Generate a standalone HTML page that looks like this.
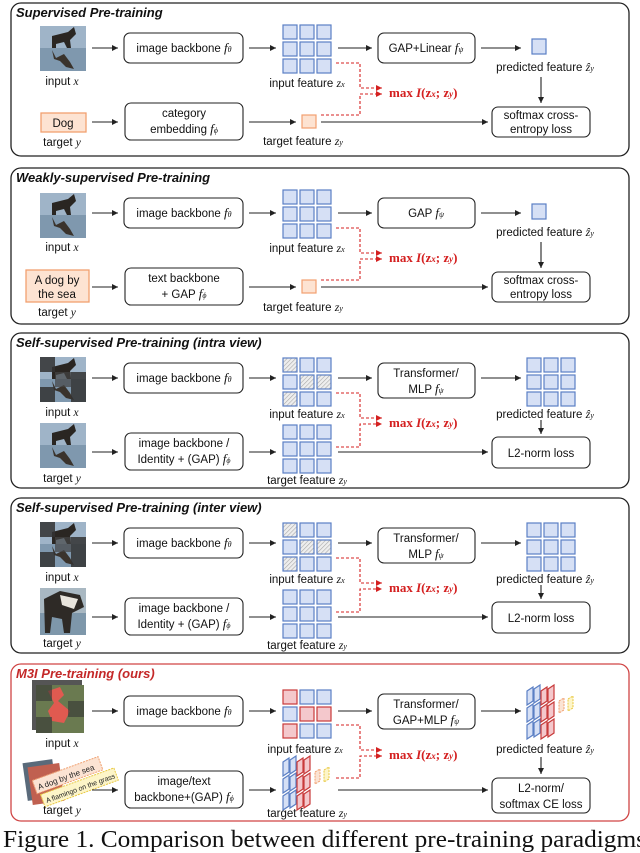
<!DOCTYPE html>
<html><head><meta charset="utf-8"><style>
html,body{margin:0;padding:0;background:#fff;overflow:hidden}
svg{display:block}
.t{font-family:"Liberation Sans",sans-serif;font-size:11.5px;fill:#111}
.c{text-anchor:middle}
.h{font-family:"Liberation Sans",sans-serif;font-size:13px;font-weight:bold;font-style:italic;fill:#111}
.m{font-family:"Liberation Serif",serif;font-style:italic}
.r{font-family:"Liberation Serif",serif;font-size:13px;font-weight:bold;fill:#d42020}
.box{fill:#fff;stroke:#222;stroke-width:1.1}
.fr{fill:none;stroke:#222;stroke-width:1.3}
.ar{stroke:#222;stroke-width:1.1;fill:none;marker-end:url(#ah)}
.rd{stroke:#d42020;stroke-width:1.1;fill:none;stroke-dasharray:3,2;marker-end:url(#rh)}
.bc{fill:#d6e0f5;stroke:#5b7fc4;stroke-width:1.2}
.hc{fill:url(#hat);stroke:#5b7fc4;stroke-width:1.2}
.rc{fill:#f4c8cc;stroke:#c83a3a;stroke-width:1.2}
</style></head><body>
<svg width="640" height="853" viewBox="0 0 640 853" xmlns="http://www.w3.org/2000/svg">
<defs>
<marker id="ah" markerWidth="8" markerHeight="8" refX="6" refY="3" orient="auto" markerUnits="userSpaceOnUse"><path d="M0,0 L6,3 L0,6 z" fill="#222"/></marker>
<marker id="rh" markerWidth="8" markerHeight="8" refX="6" refY="3" orient="auto" markerUnits="userSpaceOnUse"><path d="M0,0 L6,3 L0,6 z" fill="#d42020"/></marker>
<pattern id="hat" width="3" height="3" patternUnits="userSpaceOnUse" patternTransform="rotate(45)"><rect width="3" height="3" fill="#eee"/><line x1="0" y1="0" x2="0" y2="3" stroke="#aaa" stroke-width="1.2"/></pattern>
<g id="grid">
<rect class="bc" x="0" y="0" width="14" height="14"/><rect class="bc" x="17" y="0" width="14" height="14"/><rect class="bc" x="34" y="0" width="14" height="14"/>
<rect class="bc" x="0" y="17" width="14" height="14"/><rect class="bc" x="17" y="17" width="14" height="14"/><rect class="bc" x="34" y="17" width="14" height="14"/>
<rect class="bc" x="0" y="34" width="14" height="14"/><rect class="bc" x="17" y="34" width="14" height="14"/><rect class="bc" x="34" y="34" width="14" height="14"/>
</g>
<g id="hgrid">
<rect class="hc" x="0" y="0" width="14" height="14"/><rect class="bc" x="17" y="0" width="14" height="14"/><rect class="bc" x="34" y="0" width="14" height="14"/>
<rect class="bc" x="0" y="17" width="14" height="14"/><rect class="hc" x="17" y="17" width="14" height="14"/><rect class="hc" x="34" y="17" width="14" height="14"/>
<rect class="hc" x="0" y="34" width="14" height="14"/><rect class="bc" x="17" y="34" width="14" height="14"/><rect class="bc" x="34" y="34" width="14" height="14"/>
</g>
<g id="dog">
<rect x="0" y="0" width="46" height="45" fill="#9fb4c8"/>
<rect x="0" y="22" width="46" height="23" fill="#7f98ae"/>
<path d="M12,10 L28,6 L34,1 L36,8 L30,14 L31,22 L27,22 L24,16 L16,18 L16,22 L12,22 z" fill="#2a2622"/>
<path d="M12,24 L16,32 L24,28 L30,36 L34,43 L26,41 L20,35 L14,33 z" fill="#3a332c"/>
</g>
<g id="patch">
<use href="#dog"/>
<rect x="0" y="0" width="15" height="15" fill="#333" opacity=".85"/>
<rect x="15" y="15" width="16" height="15" fill="#444" opacity=".7"/>
<rect x="31" y="15" width="15" height="15" fill="#333" opacity=".85"/>
<rect x="0" y="30" width="15" height="15" fill="#333" opacity=".85"/>
<rect x="31" y="30" width="15" height="15" fill="#333" opacity=".85"/>
</g>
<g id="sk"><polygon class="bc" points="0,4 6,0 6,14 0,18"/></g>
<g id="skr"><polygon class="rc" points="0,4 6,0 6,14 0,18"/></g>
<g id="skew">
<use href="#sk" x="0" y="0"/><use href="#sk" x="7" y="-2"/><use href="#sk" x="0" y="17"/><use href="#sk" x="7" y="15"/><use href="#sk" x="0" y="34"/><use href="#sk" x="7" y="32"/>
<use href="#skr" x="14" y="0"/><use href="#skr" x="21" y="-2"/><use href="#skr" x="14" y="17"/><use href="#skr" x="21" y="15"/><use href="#skr" x="14" y="34"/><use href="#skr" x="21" y="32"/>
<polygon points="32,14 37,11 37,23 32,26" fill="#fbe3d3" stroke="#f0a070" stroke-dasharray="2,1"/>
<polygon points="41,12 46,9 46,21 41,24" fill="#fdf5c8" stroke="#e8c840" stroke-dasharray="2,1"/>
</g>
</defs>

<!-- Panel 1 -->
<g>
<rect class="fr" x="11" y="3" width="618" height="153" rx="10"/>
<text class="h" x="16" y="17">Supervised Pre-training</text>
<use href="#dog" x="40" y="26"/>
<text class="t c" x="62" y="85">input <tspan class="m">x</tspan></text>
<line class="ar" x1="92" y1="48" x2="118" y2="48"/>
<rect class="box" x="124" y="33" width="119" height="30" rx="6"/>
<text class="t c" x="184" y="52">image backbone <tspan class="m" font-size="13">f</tspan><tspan class="m" font-size="8">θ</tspan></text>
<line class="ar" x1="249" y1="48" x2="276" y2="48"/>
<use href="#grid" x="283" y="25"/>
<text class="t c" x="307" y="87">input feature <tspan class="m" font-size="12">z<tspan font-size="8">x</tspan></tspan></text>
<line class="ar" x1="338" y1="48" x2="372" y2="48"/>
<rect class="box" x="378" y="33" width="97" height="30" rx="6"/>
<text class="t c" x="426" y="52">GAP+Linear  <tspan class="m" font-size="13">f</tspan><tspan class="m" font-size="8">ψ</tspan></text>
<line class="ar" x1="481" y1="48" x2="521" y2="48"/>
<rect class="bc" x="532" y="39" width="14" height="15"/>
<text class="t c" x="545" y="71">predicted feature <tspan class="m" font-size="12">ẑ<tspan font-size="8">y</tspan></tspan></text>
<line class="ar" x1="541" y1="77" x2="541" y2="103"/>
<rect class="box" x="492" y="107" width="98" height="30" rx="6"/>
<text class="t c" x="541" y="119">softmax cross-</text><text class="t c" x="541" y="133">entropy loss</text>
<rect x="41" y="113" width="45" height="19" fill="#fde3d2" stroke="#f2a070" stroke-width="1.3"/>
<text class="t c" x="63" y="127" font-size="12">Dog</text>
<text class="t c" x="62" y="146">target <tspan class="m">y</tspan></text>
<line class="ar" x1="92" y1="122" x2="118" y2="122"/>
<rect class="box" x="125" y="103" width="118" height="37" rx="6"/>
<text class="t c" x="184" y="117">category</text>
<text class="t c" x="184" y="133">embedding  <tspan class="m" font-size="13">f</tspan><tspan class="m" font-size="8">ϕ</tspan></text>
<line class="ar" x1="249" y1="122" x2="296" y2="122"/>
<rect x="302" y="115" width="14" height="13" fill="#fde3d2" stroke="#f2a070" stroke-width="1.2"/>
<text class="t c" x="303" y="145">target feature <tspan class="m" font-size="12">z<tspan font-size="8">y</tspan></tspan></text>
<line class="ar" x1="321" y1="122" x2="488" y2="122"/>
<path class="rd" d="M336,63 H360 V88 H382"/>
<path class="rd" d="M321,115 H360 V94 H382"/>
<text class="r" x="389" y="97">max <tspan font-style="italic">I</tspan>(z<tspan font-size="9" font-style="italic">x</tspan>; z<tspan font-size="9" font-style="italic">y</tspan>)</text>
</g>

<!-- Panel 2 -->
<g transform="translate(0,165)">
<rect class="fr" x="11" y="3" width="618" height="156" rx="10"/>
<text class="h" x="16" y="17">Weakly-supervised Pre-training</text>
<use href="#dog" x="40" y="28"/>
<text class="t c" x="62" y="86">input <tspan class="m">x</tspan></text>
<line class="ar" x1="92" y1="48" x2="118" y2="48"/>
<rect class="box" x="124" y="33" width="119" height="30" rx="6"/>
<text class="t c" x="184" y="52">image backbone <tspan class="m" font-size="13">f</tspan><tspan class="m" font-size="8">θ</tspan></text>
<line class="ar" x1="249" y1="48" x2="276" y2="48"/>
<use href="#grid" x="283" y="25"/>
<text class="t c" x="307" y="87">input feature <tspan class="m" font-size="12">z<tspan font-size="8">x</tspan></tspan></text>
<line class="ar" x1="338" y1="48" x2="372" y2="48"/>
<rect class="box" x="378" y="33" width="97" height="30" rx="6"/>
<text class="t c" x="426" y="52">GAP  <tspan class="m" font-size="13">f</tspan><tspan class="m" font-size="8">ψ</tspan></text>
<line class="ar" x1="481" y1="48" x2="521" y2="48"/>
<rect class="bc" x="532" y="39" width="14" height="15"/>
<text class="t c" x="545" y="71">predicted feature <tspan class="m" font-size="12">ẑ<tspan font-size="8">y</tspan></tspan></text>
<line class="ar" x1="541" y1="77" x2="541" y2="103"/>
<rect class="box" x="492" y="107" width="98" height="30" rx="6"/>
<text class="t c" x="541" y="119">softmax cross-</text><text class="t c" x="541" y="133">entropy loss</text>
<rect x="26" y="105" width="63" height="32" fill="#fde3d2" stroke="#f2a070" stroke-width="1.3"/>
<text class="t c" x="57" y="119" font-size="12">A dog by</text>
<text class="t c" x="57" y="133" font-size="12">the sea</text>
<text class="t c" x="57" y="151">target <tspan class="m">y</tspan></text>
<line class="ar" x1="92" y1="122" x2="118" y2="122"/>
<rect class="box" x="125" y="103" width="118" height="37" rx="6"/>
<text class="t c" x="184" y="117">text backbone</text>
<text class="t c" x="184" y="133">+ GAP  <tspan class="m" font-size="13">f</tspan><tspan class="m" font-size="8">ϕ</tspan></text>
<line class="ar" x1="249" y1="122" x2="296" y2="122"/>
<rect x="302" y="115" width="14" height="13" fill="#fde3d2" stroke="#f2a070" stroke-width="1.2"/>
<text class="t c" x="303" y="146">target feature <tspan class="m" font-size="12">z<tspan font-size="8">y</tspan></tspan></text>
<line class="ar" x1="321" y1="122" x2="488" y2="122"/>
<path class="rd" d="M336,63 H360 V88 H382"/>
<path class="rd" d="M321,115 H360 V94 H382"/>
<text class="r" x="389" y="97">max <tspan font-style="italic">I</tspan>(z<tspan font-size="9" font-style="italic">x</tspan>; z<tspan font-size="9" font-style="italic">y</tspan>)</text>
</g>

<!-- Panel 3 -->
<g transform="translate(0,330)">
<rect class="fr" x="11" y="3" width="618" height="155" rx="10"/>
<text class="h" x="16" y="17">Self-supervised Pre-training (intra view)</text>
<use href="#patch" x="40" y="27"/>
<text class="t c" x="62" y="86">input <tspan class="m">x</tspan></text>
<line class="ar" x1="92" y1="48" x2="118" y2="48"/>
<rect class="box" x="124" y="33" width="119" height="30" rx="6"/>
<text class="t c" x="184" y="52">image backbone <tspan class="m" font-size="13">f</tspan><tspan class="m" font-size="8">θ</tspan></text>
<line class="ar" x1="249" y1="48" x2="276" y2="48"/>
<use href="#hgrid" x="283" y="28"/>
<text class="t c" x="307" y="88">input feature <tspan class="m" font-size="12">z<tspan font-size="8">x</tspan></tspan></text>
<line class="ar" x1="338" y1="48" x2="372" y2="48"/>
<rect class="box" x="378" y="33" width="97" height="35" rx="6"/>
<text class="t c" x="426" y="47">Transformer/</text>
<text class="t c" x="426" y="63">MLP  <tspan class="m" font-size="13">f</tspan><tspan class="m" font-size="8">ψ</tspan></text>
<line class="ar" x1="481" y1="48" x2="521" y2="48"/>
<use href="#grid" x="527" y="28"/>
<text class="t c" x="545" y="88">predicted feature <tspan class="m" font-size="12">ẑ<tspan font-size="8">y</tspan></tspan></text>
<line class="ar" x1="541" y1="90" x2="541" y2="104"/>
<rect class="box" x="492" y="107" width="98" height="31" rx="6"/>
<text class="t c" x="541" y="127">L2-norm loss</text>
<use href="#dog" x="40" y="93"/>
<text class="t c" x="62" y="152">target <tspan class="m">y</tspan></text>
<line class="ar" x1="92" y1="122" x2="118" y2="122"/>
<rect class="box" x="125" y="103" width="118" height="37" rx="6"/>
<text class="t c" x="184" y="117">image backbone /</text>
<text class="t c" x="184" y="133">Identity + (GAP)  <tspan class="m" font-size="13">f</tspan><tspan class="m" font-size="8">ϕ</tspan></text>
<line class="ar" x1="249" y1="122" x2="276" y2="122"/>
<use href="#grid" x="283" y="95"/>
<text class="t c" x="307" y="154">target feature <tspan class="m" font-size="12">z<tspan font-size="8">y</tspan></tspan></text>
<line class="ar" x1="338" y1="122" x2="488" y2="122"/>
<path class="rd" d="M336,63 H360 V88 H382"/>
<path class="rd" d="M336,117 H360 V94 H382"/>
<text class="r" x="389" y="97">max <tspan font-style="italic">I</tspan>(z<tspan font-size="9" font-style="italic">x</tspan>; z<tspan font-size="9" font-style="italic">y</tspan>)</text>
</g>

<!-- Panel 4 -->
<g transform="translate(0,495)">
<rect class="fr" x="11" y="3" width="618" height="155" rx="10"/>
<text class="h" x="16" y="17">Self-supervised Pre-training (inter view)</text>
<use href="#patch" x="40" y="27"/>
<text class="t c" x="62" y="86">input <tspan class="m">x</tspan></text>
<line class="ar" x1="92" y1="48" x2="118" y2="48"/>
<rect class="box" x="124" y="33" width="119" height="30" rx="6"/>
<text class="t c" x="184" y="52">image backbone <tspan class="m" font-size="13">f</tspan><tspan class="m" font-size="8">θ</tspan></text>
<line class="ar" x1="249" y1="48" x2="276" y2="48"/>
<use href="#hgrid" x="283" y="28"/>
<text class="t c" x="307" y="88">input feature <tspan class="m" font-size="12">z<tspan font-size="8">x</tspan></tspan></text>
<line class="ar" x1="338" y1="48" x2="372" y2="48"/>
<rect class="box" x="378" y="33" width="97" height="35" rx="6"/>
<text class="t c" x="426" y="47">Transformer/</text>
<text class="t c" x="426" y="63">MLP  <tspan class="m" font-size="13">f</tspan><tspan class="m" font-size="8">ψ</tspan></text>
<line class="ar" x1="481" y1="48" x2="521" y2="48"/>
<use href="#grid" x="527" y="28"/>
<text class="t c" x="545" y="88">predicted feature <tspan class="m" font-size="12">ẑ<tspan font-size="8">y</tspan></tspan></text>
<line class="ar" x1="541" y1="90" x2="541" y2="104"/>
<rect class="box" x="492" y="107" width="98" height="31" rx="6"/>
<text class="t c" x="541" y="127">L2-norm loss</text>
<rect x="40" y="93" width="46" height="47" fill="#a9b8c2"/>
<rect x="40" y="118" width="46" height="22" fill="#7e97aa"/>
<path d="M44,104 L60,96 L80,100 L84,112 L72,118 L70,138 L64,138 L62,124 L52,122 L50,138 L45,138 z" fill="#2e2a26"/>
<path d="M60,100 L78,104 L74,114 L62,110 z" fill="#e8e4dc"/>
<text class="t c" x="62" y="152">target <tspan class="m">y</tspan></text>
<line class="ar" x1="92" y1="122" x2="118" y2="122"/>
<rect class="box" x="125" y="103" width="118" height="37" rx="6"/>
<text class="t c" x="184" y="117">image backbone /</text>
<text class="t c" x="184" y="133">Identity + (GAP)  <tspan class="m" font-size="13">f</tspan><tspan class="m" font-size="8">ϕ</tspan></text>
<line class="ar" x1="249" y1="122" x2="276" y2="122"/>
<use href="#grid" x="283" y="95"/>
<text class="t c" x="307" y="154">target feature <tspan class="m" font-size="12">z<tspan font-size="8">y</tspan></tspan></text>
<line class="ar" x1="338" y1="122" x2="488" y2="122"/>
<path class="rd" d="M336,63 H360 V88 H382"/>
<path class="rd" d="M336,117 H360 V94 H382"/>
<text class="r" x="389" y="97">max <tspan font-style="italic">I</tspan>(z<tspan font-size="9" font-style="italic">x</tspan>; z<tspan font-size="9" font-style="italic">y</tspan>)</text>
</g>

<!-- Panel 5 -->
<g transform="translate(0,661)">
<rect x="11" y="3" width="618" height="157" rx="10" fill="none" stroke="#d04545" stroke-width="1.3"/>
<text class="h" x="16" y="17" style="fill:#c42828">M3I Pre-training (ours)</text>
<rect x="32" y="19" width="50" height="50" fill="#555"/>
<rect x="36" y="24" width="48" height="48" fill="#6a7a50"/>
<path d="M48,30 L60,26 L64,34 L58,40 L70,50 L64,62 L52,60 L48,50 L54,42 z" fill="#e05a50"/>
<rect x="36" y="24" width="16" height="16" fill="#333" opacity=".6"/><rect x="68" y="40" width="16" height="16" fill="#333" opacity=".6"/><rect x="36" y="56" width="16" height="16" fill="#333" opacity=".6"/>
<text class="t c" x="62" y="86">input <tspan class="m">x</tspan></text>
<line class="ar" x1="92" y1="50" x2="118" y2="50"/>
<rect class="box" x="124" y="35" width="119" height="30" rx="6"/>
<text class="t c" x="184" y="54">image backbone <tspan class="m" font-size="13">f</tspan><tspan class="m" font-size="8">θ</tspan></text>
<line class="ar" x1="249" y1="50" x2="276" y2="50"/>
<g transform="translate(283,29)">
<rect class="rc" x="0" y="0" width="14" height="14"/><rect class="bc" x="17" y="0" width="14" height="14"/><rect class="bc" x="34" y="0" width="14" height="14"/>
<rect class="bc" x="0" y="17" width="14" height="14"/><rect class="rc" x="17" y="17" width="14" height="14"/><rect class="rc" x="34" y="17" width="14" height="14"/>
<rect class="rc" x="0" y="34" width="14" height="14"/><rect class="bc" x="17" y="34" width="14" height="14"/><rect class="bc" x="34" y="34" width="14" height="14"/>
</g>
<text class="t c" x="305" y="92">input feature <tspan class="m" font-size="12">z<tspan font-size="8">x</tspan></tspan></text>
<line class="ar" x1="338" y1="50" x2="372" y2="50"/>
<rect class="box" x="378" y="33" width="97" height="35" rx="6"/>
<text class="t c" x="426" y="47">Transformer/</text>
<text class="t c" x="426" y="63">GAP+MLP  <tspan class="m" font-size="13">f</tspan><tspan class="m" font-size="8">ψ</tspan></text>
<line class="ar" x1="481" y1="50" x2="521" y2="50"/>
<use href="#skew" x="527" y="26"/>
<text class="t c" x="545" y="92">predicted feature <tspan class="m" font-size="12">ẑ<tspan font-size="8">y</tspan></tspan></text>
<line class="ar" x1="541" y1="96" x2="541" y2="113"/>
<rect class="box" x="492" y="117" width="98" height="35" rx="6"/>
<text class="t c" x="541" y="131">L2-norm/</text><text class="t c" x="541" y="147">softmax CE loss</text>
<rect x="25" y="100" width="30" height="38" fill="#5a6a7a" transform="rotate(-8 40 119)"/>
<rect x="30" y="104" width="32" height="38" fill="#c06050" transform="rotate(-8 46 123)"/>
<g transform="rotate(-20 75 120)">
<rect x="35" y="105" width="70" height="14" fill="#fbe3d3" stroke="#f0a070" stroke-dasharray="2,1"/>
<text x="38" y="116" font-family="Liberation Sans,sans-serif" font-size="8" fill="#222">A dog by the sea</text>
<rect x="38" y="121" width="78" height="13" fill="#fdf5c8" stroke="#e8c840" stroke-dasharray="2,1"/>
<text x="41" y="131" font-family="Liberation Sans,sans-serif" font-size="7" fill="#222">A flamingo on the grass</text>
</g>
<text class="t c" x="62" y="153">target <tspan class="m">y</tspan></text>
<line class="ar" x1="92" y1="129" x2="118" y2="129"/>
<rect class="box" x="125" y="110" width="118" height="37" rx="6"/>
<text class="t c" x="184" y="124">image/text</text>
<text class="t c" x="184" y="140">backbone+(GAP)  <tspan class="m" font-size="13">f</tspan><tspan class="m" font-size="8">ϕ</tspan></text>
<line class="ar" x1="249" y1="129" x2="276" y2="129"/>
<use href="#skew" x="283" y="97"/>
<text class="t c" x="307" y="156">target feature <tspan class="m" font-size="12">z<tspan font-size="8">y</tspan></tspan></text>
<line class="ar" x1="338" y1="129" x2="488" y2="129"/>
<path class="rd" d="M336,64 H360 V89 H382"/>
<path class="rd" d="M336,117 H360 V95 H382"/>
<text class="r" x="389" y="98">max <tspan font-style="italic">I</tspan>(z<tspan font-size="9" font-style="italic">x</tspan>; z<tspan font-size="9" font-style="italic">y</tspan>)</text>
</g>

<text x="3" y="847" font-family="Liberation Serif,serif" font-size="24" fill="#111" textLength="643" lengthAdjust="spacingAndGlyphs">Figure 1.  Comparison between different pre-training paradigms</text>
</svg>
</body></html>
